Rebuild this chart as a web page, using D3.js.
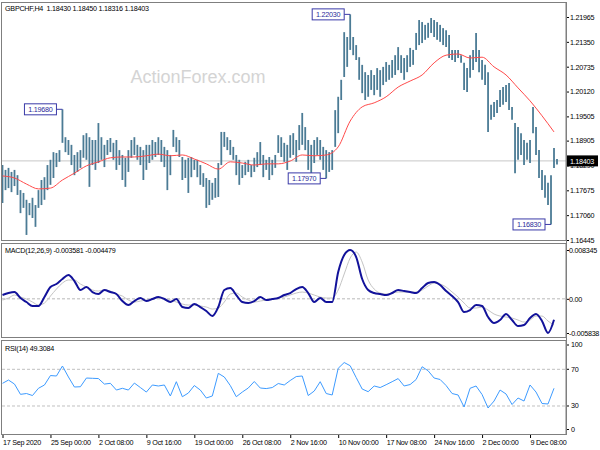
<!DOCTYPE html>
<html><head><meta charset="utf-8">
<script src="https://cdn.jsdelivr.net/npm/d3@7"></script>
<style>body{margin:0;background:#fff}svg{display:block}</style>
</head><body>
<svg id="c" width="600" height="450"></svg>
<script>
// ---------------- DATA ----------------
const symbol = "GBPCHF,H4";
const lastOHLC = [1.18430, 1.18450, 1.18316, 1.18403];

// bar highs / lows (each entry ~ two H4 bars)
const highs = [
1.1830,1.1818,1.1823,1.1813,1.1818,1.1805,1.1768,1.1761,1.1744,1.1736,
1.1749,1.1731,1.1768,1.1793,1.1800,1.1830,1.1843,1.1862,1.1860,1.1867,
1.1968,1.1899,1.1892,1.1880,1.1855,1.1862,1.1867,1.1904,1.1909,1.1899,
1.1892,1.1892,1.1934,1.1899,1.1880,1.1892,1.1897,1.1885,1.1892,1.1867,
1.1855,1.1848,1.1867,1.1892,1.1899,1.1880,1.1875,1.1867,1.1880,1.1880,
1.1892,1.1887,1.1899,1.1892,1.1875,1.1867,1.1855,1.1917,1.1899,1.1892,
1.1850,1.1843,1.1848,1.1850,1.1843,1.1843,1.1830,1.1810,1.1798,1.1793,
1.1786,1.1798,1.1835,1.1912,1.1912,1.1899,1.1892,1.1875,1.1855,1.1843,
1.1830,1.1838,1.1843,1.1830,1.1848,1.1862,1.1887,1.1855,1.1843,1.1850,
1.1843,1.1855,1.1904,1.1899,1.1885,1.1880,1.1904,1.1909,1.1892,1.1929,
1.1959,1.1924,1.1892,1.1880,1.1892,1.1899,1.1892,1.1875,1.1867,1.1862,
1.1867,1.1966,1.1999,1.2041,1.2159,1.2147,1.2203,1.2147,1.2127,1.2097,
1.2078,1.2060,1.2053,1.2065,1.2053,1.2070,1.2065,1.2073,1.2085,1.2078,
1.2090,1.2102,1.2122,1.2102,1.2095,1.2102,1.2120,1.2115,1.2157,1.2189,
1.2184,1.2177,1.2182,1.2194,1.2189,1.2184,1.2177,1.2169,1.2164,1.2152,
1.2115,1.2115,1.2115,1.2102,1.2083,1.2070,1.2102,1.2115,1.2157,1.2115,
1.2090,1.2078,1.2060,1.1979,1.1986,1.1991,1.2016,1.2023,1.2028,1.2033,
1.1974,1.1934,1.1924,1.1909,1.1892,1.1885,1.1892,1.1974,1.1924,1.1867,
1.1818,1.1805,1.1786,1.1805,1.1872,1.18450];
const lows = [
1.1736,1.1768,1.1773,1.1763,1.1778,1.1756,1.1711,1.1724,1.1657,1.1706,
1.1699,1.1677,1.1724,1.1731,1.1744,1.1768,1.1781,1.1798,1.1825,1.1838,
1.1885,1.1862,1.1855,1.1830,1.1805,1.1813,1.1823,1.1848,1.1843,1.1776,
1.1830,1.1818,1.1835,1.1843,1.1825,1.1855,1.1862,1.1843,1.1818,1.1830,
1.1793,1.1776,1.1813,1.1848,1.1855,1.1843,1.1830,1.1793,1.1818,1.1835,
1.1843,1.1850,1.1855,1.1838,1.1825,1.1768,1.1805,1.1875,1.1862,1.1850,
1.1793,1.1798,1.1761,1.1800,1.1818,1.1800,1.1781,1.1776,1.1724,1.1731,
1.1744,1.1749,1.1751,1.1830,1.1875,1.1867,1.1855,1.1843,1.1805,1.1781,
1.1798,1.1805,1.1813,1.1800,1.1813,1.1825,1.1830,1.1800,1.1818,1.1793,
1.1805,1.1823,1.1860,1.1850,1.1838,1.1818,1.1848,1.1855,1.1838,1.1867,
1.1880,1.1867,1.1818,1.1805,1.1835,1.1855,1.1843,1.1818,1.1797,1.1813,
1.1818,1.1875,1.1909,1.1991,1.2048,1.2073,1.2115,1.2102,1.2090,1.2041,
1.2008,1.1991,1.1999,1.2016,1.2003,1.2016,1.1999,1.2028,1.2036,1.2041,
1.2046,1.2053,1.2065,1.2058,1.2041,1.2060,1.2073,1.2078,1.2115,1.2127,
1.2132,1.2140,1.2145,1.2157,1.2147,1.2140,1.2135,1.2127,1.2122,1.2095,
1.2090,1.2085,1.2095,1.2083,1.2016,1.2011,1.2046,1.2065,1.2085,1.2060,
1.2041,1.2028,1.1912,1.1942,1.1949,1.1959,1.1974,1.1979,1.1986,1.1966,
1.1942,1.1810,1.1843,1.1855,1.1830,1.1843,1.1835,1.1909,1.1855,1.1798,
1.1768,1.1749,1.1731,1.1683,1.1823,1.18316];

// moving average, one value every 4 bar entries
const maStep = 4;
const ma = [
1.1803,1.1798,1.1783,1.1771,1.1773,1.1793,1.1810,1.1828,1.1838,1.1848,
1.1850,1.1850,1.1853,1.1857,1.1853,1.1855,1.1845,1.1833,1.1820,1.1838,
1.1835,1.1830,1.1833,1.1833,1.1840,1.1855,1.1853,1.1855,1.1875,1.1939,
1.1974,1.1984,1.1999,1.2023,1.2038,1.2053,1.2083,1.2102,1.2105,1.2095,
1.2097,1.2073,1.2053,1.2021,1.1989,1.1952,1.1912];

// MACD(12,26,9) main and signal, one value every 2 bar entries
const indStep = 2;
const macdMain = [
0.000649,0.000991,0.001162,0.000137,-0.000547,-0.001230,-0.001230,0.000308,0.002016,0.002529,
0.003384,0.004067,0.003042,0.001504,0.002016,0.001162,0.000820,0.001504,0.001162,0.000820,
-0.000376,-0.001060,-0.000376,0.000137,-0.000376,-0.000034,0.000308,-0.000034,-0.000547,-0.000034,
-0.001401,-0.001572,-0.000889,-0.001401,-0.002085,-0.002939,-0.001401,0.001504,0.001846,0.000649,
-0.000547,-0.000718,-0.000376,0.000308,-0.000205,-0.000034,0.000137,0.000649,0.000991,0.001675,
0.002016,0.000991,-0.000547,0.000137,-0.000547,-0.000547,0.004580,0.007485,0.008345,0.007143,
0.003384,0.001504,0.000991,0.000820,0.000649,0.000991,0.001504,0.001333,0.001162,0.000991,
0.001846,0.002700,0.002871,0.002358,0.001333,0.000478,-0.000547,-0.002256,-0.001914,-0.001060,
-0.001230,-0.003110,-0.004136,-0.003623,-0.002598,-0.003623,-0.004648,-0.004477,-0.003281,-0.002598,
-0.003794,-0.005838,-0.003581];
const macdSignal = [
-0.000205,0.000137,0.000649,0.000308,-0.000034,-0.000547,-0.001060,-0.000718,0.000478,0.001675,
0.002700,0.003213,0.003213,0.002529,0.002016,0.001504,0.001333,0.001504,0.001333,0.000820,
0.000478,-0.000205,-0.000547,-0.000376,-0.000205,-0.000034,0.000137,-0.000034,-0.000205,-0.000547,
-0.000889,-0.001060,-0.001060,-0.001230,-0.001401,-0.001743,-0.001572,-0.000547,0.000820,0.000991,
0.000308,-0.000205,-0.000547,-0.000376,-0.000205,-0.000034,0.000137,0.000308,0.000649,0.000991,
0.001162,0.000991,0.000649,0.000308,0.000137,0.000137,0.001504,0.004238,0.006973,0.007998,
0.006289,0.003213,0.001675,0.000991,0.000820,0.000991,0.001162,0.001162,0.001162,0.001162,
0.001504,0.002188,0.002700,0.002529,0.002016,0.001162,0.000308,-0.000718,-0.001572,-0.001572,
-0.001401,-0.001914,-0.002598,-0.002939,-0.003110,-0.003281,-0.003623,-0.003965,-0.003623,-0.002939,
-0.002939,-0.003794,-0.004479];

// RSI(14), one value every 2 bar entries
const rsi = [
54.7,58.3,53.9,42.7,43.6,41.4,49.3,52.9,63.2,62.7,
73.6,61.6,50.7,51.0,60.5,60.2,59.9,53.9,54.7,47.4,
49.3,47.4,55.0,50.1,45.2,52.9,51.8,52.9,40.9,56.5,
40.1,44.1,52.3,47.4,38.7,40.9,65.6,61.6,52.3,40.1,
45.2,49.6,56.7,49.6,49.0,50.1,54.5,52.9,57.8,62.1,
62.7,41.4,46.3,56.5,43.6,42.0,71.1,77.4,73.9,61.0,
48.5,45.6,51.8,50.1,53.2,56.5,59.9,51.8,53.4,58.9,
72.8,68.4,60.5,58.9,52.3,43.6,42.0,28.9,49.3,51.8,
42.5,27.8,35.4,47.4,43.1,31.6,38.7,35.4,52.9,45.2,
32.7,32.2,49.3084];

// labelled extremes
const markerIdx = [20, 116, 108, 183];
const markerPrice = [1.19680, 1.22030, 1.17970, 1.16830];

// axes
const priceTicks = [1.21965,1.21350,1.20735,1.20120,1.19505,1.18905,1.18290,1.17675,1.17060,1.16445];
const macdTicks = [0.008345, 0.0, -0.005838];
const macdTickLabels = ["0.008345", "0.00", "-0.005838"];
const rsiTicks = [100, 70, 30, 0];
const rsiLevels = [70, 30];
const dateIdx = [0,16,32,48,64,80,96,112,128,144,160,176];
const dateLabels = ["17 Sep 2020","25 Sep 00:00","2 Oct 08:00","9 Oct 16:00","19 Oct 00:00","26 Oct 08:00",
  "2 Nov 16:00","10 Nov 00:00","17 Nov 08:00","24 Nov 16:00","2 Dec 00:00","9 Dec 08:00"];

// ---------------- DRAW ----------------
const svg = d3.select("#c");
const FONT = "'Liberation Sans', Arial, sans-serif";
const FS = 7.2;
const LS = "-0.25px";
const plotL = 2, plotR = 566;
const pMain = {top: 2, bottom: 241};
const pMacd = {top: 243, bottom: 338};
const pRsi  = {top: 340, bottom: 435};

const x = d3.scaleLinear().domain([0, highs.length - 1]).range([2.5, 557]);
const yP = d3.scaleLinear().domain([1.16445, 1.21965]).range([240, 17]);
const yM = d3.scaleLinear().domain([-0.005838, 0.008345]).range([333, 250]);
const yR = d3.scaleLinear().domain([0, 100]).range([433.5, 341.8]);

function small(sel) {
  return sel.attr("font-family", FONT).attr("font-size", FS).attr("letter-spacing", LS);
}

const defs = svg.append("defs");
[["cMain", pMain], ["cMacd", pMacd], ["cRsi", pRsi]].forEach(([id, p]) => {
  defs.append("clipPath").attr("id", id).append("rect")
    .attr("x", plotL).attr("y", p.top).attr("width", plotR - plotL).attr("height", p.bottom - p.top);
});

// watermark
svg.append("text").attr("x", 198).attr("y", 83).attr("text-anchor", "middle")
  .attr("font-family", FONT).attr("font-size", 18).attr("fill", "#d4d4d4")
  .text("ActionForex.com");

// ---- main panel ----
const gMain = svg.append("g").attr("clip-path", "url(#cMain)");
gMain.append("line").attr("x1", plotL).attr("x2", plotR)
  .attr("y1", yP(lastOHLC[3])).attr("y2", yP(lastOHLC[3]))
  .attr("stroke", "#c8c8c8").attr("stroke-width", 1);

gMain.append("g").selectAll("line").data(highs).join("line")
  .attr("x1", (d, i) => x(i)).attr("x2", (d, i) => x(i))
  .attr("y1", d => yP(d)).attr("y2", (d, i) => yP(lows[i]))
  .attr("stroke", "#4b7b95").attr("stroke-width", 1.8);

gMain.append("path").datum(ma)
  .attr("d", d3.line().x((d, k) => x(k * maStep)).y(d => yP(d)).curve(d3.curveMonotoneX))
  .attr("fill", "none").attr("stroke", "#ff4a4a").attr("stroke-width", 1);

// markers
const gMark = svg.append("g");
markerIdx.forEach((idx, j) => {
  const bx = x(idx), by = yP(markerPrice[j]);
  gMark.append("line").attr("x1", bx - 6).attr("x2", bx).attr("y1", by).attr("y2", by)
    .attr("stroke", "#3a3aa8").attr("stroke-width", 1);
  gMark.append("rect").attr("x", bx - 38).attr("y", by - 5.5).attr("width", 32).attr("height", 11)
    .attr("fill", "#fff").attr("stroke", "#3a3aa8").attr("stroke-width", 1);
  gMark.append("text").attr("x", bx - 22).attr("y", by + 2.8).attr("text-anchor", "middle")
    .call(small).attr("fill", "#2a2a9a")
    .text(markerPrice[j].toFixed(5));
});

// ---- MACD panel ----
const gMacd = svg.append("g").attr("clip-path", "url(#cMacd)");
gMacd.append("line").attr("x1", plotL).attr("x2", plotR).attr("y1", yM(0)).attr("y2", yM(0))
  .attr("stroke", "#b8b8b8").attr("stroke-dasharray", "3,2");
gMacd.append("path").datum(macdSignal)
  .attr("d", d3.line().x((d, k) => x(k * indStep)).y(d => yM(d)).curve(d3.curveMonotoneX))
  .attr("fill", "none").attr("stroke", "#c4c4c4").attr("stroke-width", 1);
gMacd.append("path").datum(macdMain)
  .attr("d", d3.line().x((d, k) => x(k * indStep)).y(d => yM(d)).curve(d3.curveMonotoneX))
  .attr("fill", "none").attr("stroke", "#12129a").attr("stroke-width", 2);

// ---- RSI panel ----
const gRsi = svg.append("g").attr("clip-path", "url(#cRsi)");
gRsi.selectAll("line.lvl").data(rsiLevels).join("line").attr("class", "lvl")
  .attr("x1", plotL).attr("x2", plotR).attr("y1", d => yR(d)).attr("y2", d => yR(d))
  .attr("stroke", "#c0c0c0").attr("stroke-dasharray", "3,2");
gRsi.append("path").datum(rsi)
  .attr("d", d3.line().x((d, k) => x(k * indStep)).y(d => yR(d)))
  .attr("fill", "none").attr("stroke", "#3d9bff").attr("stroke-width", 1);

// ---- panel frames ----
[pMain, pMacd, pRsi].forEach(p => {
  svg.append("rect").attr("x", plotL - 0.5).attr("y", p.top + 0.5)
    .attr("width", plotR - plotL + 0.5).attr("height", p.bottom - p.top - 1)
    .attr("fill", "none").attr("stroke", "#7f7f7f").attr("stroke-width", 1);
});

// ---- axes ----
function styleAxis(g) {
  g.select(".domain").remove();
  g.selectAll(".tick line").attr("stroke", "#000");
  g.selectAll(".tick text").call(small).attr("fill", "#000");
}
svg.append("g").attr("transform", `translate(${plotR},0)`)
  .call(d3.axisRight(yP).tickValues(priceTicks).tickFormat(d3.format(".5f")).tickSize(3).tickPadding(1))
  .call(styleAxis);

// current price box
const cp = yP(lastOHLC[3]);
svg.append("rect").attr("x", plotR).attr("y", cp - 5.5).attr("width", 32).attr("height", 11).attr("fill", "#000");
svg.append("text").attr("x", plotR + 16).attr("y", cp + 2.8).attr("text-anchor", "middle")
  .call(small).attr("fill", "#fff").text(lastOHLC[3].toFixed(5));

svg.append("g").attr("transform", `translate(${plotR},0)`)
  .call(d3.axisRight(yM).tickValues(macdTicks).tickFormat((d, i) => macdTickLabels[i]).tickSize(3).tickPadding(0))
  .call(styleAxis);

const gRA = svg.append("g").attr("transform", `translate(${plotR},0)`)
  .call(d3.axisRight(yR).tickValues(rsiTicks).tickFormat(d3.format("d")).tickSize(3).tickPadding(2))
  .call(styleAxis);
gRA.selectAll(".tick").attr("transform", d => `translate(0,${Math.max(pRsi.top + 5, Math.min(pRsi.bottom - 5.5, yR(d)))})`);

const gX = svg.append("g").attr("transform", `translate(0,${pRsi.bottom})`)
  .call(d3.axisBottom(x).tickValues(dateIdx).tickFormat((d, i) => dateLabels[i]).tickSize(3).tickPadding(1.5))
  .call(styleAxis);
gX.selectAll(".tick text").attr("text-anchor", "start").attr("x", 0);

// right border line
svg.append("line").attr("x1", plotR + 0.5).attr("x2", plotR + 0.5).attr("y1", pMain.top).attr("y2", pRsi.bottom)
  .attr("stroke", "#7f7f7f");

// ---- titles ----
svg.append("text").attr("x", 5).attr("y", 11).call(small).attr("fill", "#000")
  .attr("xml:space", "preserve")
  .text(symbol + "  " + lastOHLC.map(v => v.toFixed(5)).join(" "));
svg.append("text").attr("x", 5).attr("y", 253).call(small).attr("fill", "#000")
  .text("MACD(12,26,9) " + macdMain[macdMain.length - 1].toFixed(6) + " " + macdSignal[macdSignal.length - 1].toFixed(6));
svg.append("text").attr("x", 5).attr("y", 351).call(small).attr("fill", "#000")
  .text("RSI(14) " + rsi[rsi.length - 1].toFixed(4));
</script>
</body></html>
